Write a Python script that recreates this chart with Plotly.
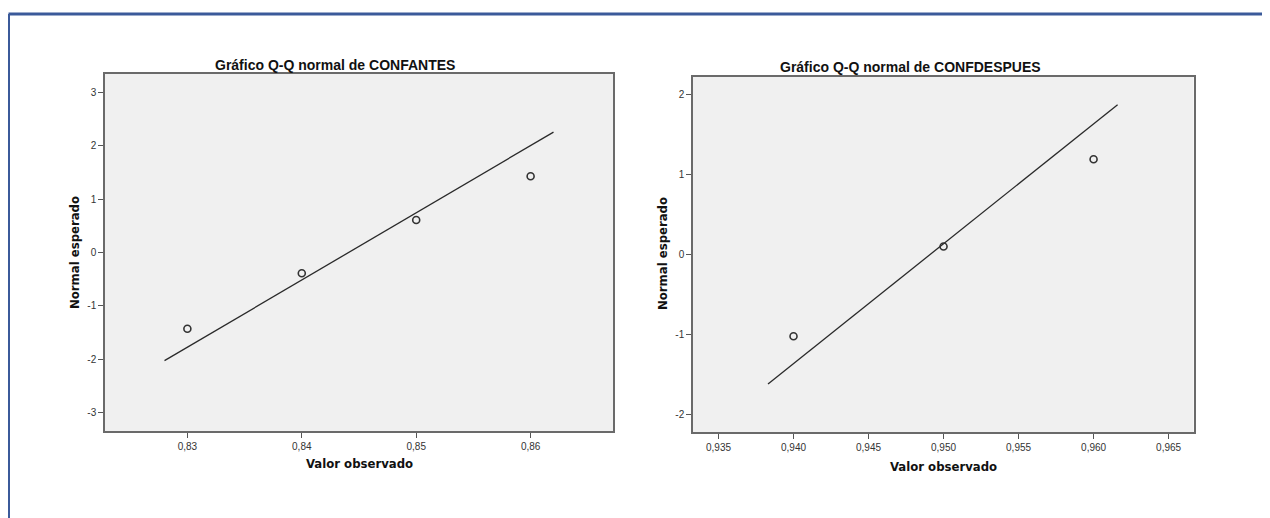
import plotly.graph_objects as go

# page body has an 8px margin; figure size reduced so it fits the 1270x518 window
OFF = 8
W, H = 1270 - OFF, 518 - OFF

# Left chart: CONFANTES
ant_obs = [0.83, 0.84, 0.85, 0.86]
ant_expected = [-1.43, -0.39, 0.61, 1.43]
ant_line_x = [0.8280, 0.8620]
ant_line_y = [-2.03, 2.26]
ant_yticks = [-3, -2, -1, 0, 1, 2, 3]
ant_xticks = [0.83, 0.84, 0.85, 0.86]

# Right chart: CONFDESPUES
des_obs = [0.940, 0.950, 0.960]
des_expected = [-1.02, 0.10, 1.19]
des_line_x = [0.9383, 0.9616]
des_line_y = [-1.617, 1.87]
des_yticks = [-2, -1, 0, 1, 2]
des_xticks = [0.935, 0.940, 0.945, 0.950, 0.955, 0.960, 0.965]

titles = ["Gráfico Q-Q normal de CONFANTES", "Gráfico Q-Q normal de CONFDESPUES"]
x_title = "Valor observado"
y_title = "Normal esperado"


def px(x):
    return (x - OFF) / W


def py(y):
    return 1 - (y - OFF) / H


def ylabels(vals):
    return [str(v) for v in vals]


fig = go.Figure()

marker = dict(symbol="circle-open", size=7, color="#333333", line=dict(width=1.6, color="#333333"))
linestyle = dict(color="#2a2a2a", width=1.3)

fig.add_trace(go.Scatter(x=ant_line_x, y=ant_line_y, mode="lines", line=linestyle,
                         xaxis="x", yaxis="y", showlegend=False, hoverinfo="skip"))
fig.add_trace(go.Scatter(x=ant_obs, y=ant_expected, mode="markers", marker=marker,
                         xaxis="x", yaxis="y", showlegend=False))
fig.add_trace(go.Scatter(x=des_line_x, y=des_line_y, mode="lines", line=linestyle,
                         xaxis="x2", yaxis="y2", showlegend=False, hoverinfo="skip"))
fig.add_trace(go.Scatter(x=des_obs, y=des_expected, mode="markers", marker=marker,
                         xaxis="x2", yaxis="y2", showlegend=False))

axis_common = dict(showgrid=False, zeroline=False, showline=True, mirror=True,
                   linecolor="#6a6a6a", linewidth=1.5, ticks="outside", ticklen=5,
                   tickcolor="#555555", tickwidth=1.2,
                   tickfont=dict(family="Arial", size=10, color="#333333"), fixedrange=True)

fig.update_layout(
    width=W, height=H,
    margin=dict(l=0, r=0, t=0, b=0),
    paper_bgcolor="white",
    plot_bgcolor="#f0f0f0",
    separators=",.",
    xaxis=dict(domain=[px(105), px(613)], range=[0.8228, 0.8672], tickvals=ant_xticks,
               tickformat=".2f", anchor="y", **axis_common),
    yaxis=dict(domain=[py(431), py(74)], range=[-3.35, 3.35], tickvals=ant_yticks,
               ticktext=ylabels(ant_yticks), anchor="x", **axis_common),
    xaxis2=dict(domain=[px(693), px(1193.5)], range=[0.9333, 0.96666], tickvals=des_xticks,
                tickformat=".3f", anchor="y2", **axis_common),
    yaxis2=dict(domain=[py(432.3), py(76.7)], range=[-2.22, 2.22], tickvals=des_yticks,
                ticktext=ylabels(des_yticks), anchor="x2", **axis_common),
)

title_font = dict(family="Arial", size=14, color="#111111")
lab_font = dict(family="DejaVu Sans Condensed, Arial", size=13, color="#111111")

ann = [
    dict(text="<b>" + titles[0] + "</b>", x=px(335), y=py(65), xref="paper", yref="paper",
         showarrow=False, font=title_font, xanchor="center", yanchor="middle"),
    dict(text="<b>" + titles[1] + "</b>", x=px(910), y=py(67), xref="paper", yref="paper",
         showarrow=False, font=title_font, xanchor="center", yanchor="middle"),
    dict(text="<b>" + x_title + "</b>", x=px(359), y=py(463), xref="paper", yref="paper",
         showarrow=False, font=lab_font, xanchor="center", yanchor="middle"),
    dict(text="<b>" + x_title + "</b>", x=px(943), y=py(466), xref="paper", yref="paper",
         showarrow=False, font=lab_font, xanchor="center", yanchor="middle"),
    dict(text="<b>" + y_title + "</b>", x=px(74), y=py(253), xref="paper", yref="paper",
         showarrow=False, font=lab_font, xanchor="center", yanchor="middle", textangle=-90),
    dict(text="<b>" + y_title + "</b>", x=px(662), y=py(254), xref="paper", yref="paper",
         showarrow=False, font=lab_font, xanchor="center", yanchor="middle", textangle=-90),
]
fig.update_layout(annotations=ann)

frame_color = "#3b5a9a"
fig.add_shape(type="line", xref="paper", yref="paper", x0=px(8.5), x1=1, y0=py(14), y1=py(14),
              line=dict(color=frame_color, width=3))
fig.add_shape(type="line", xref="paper", yref="paper", x0=px(8.5), x1=px(8.5), y0=py(14), y1=0,
              line=dict(color=frame_color, width=3))

fig.write_html("out.html")
